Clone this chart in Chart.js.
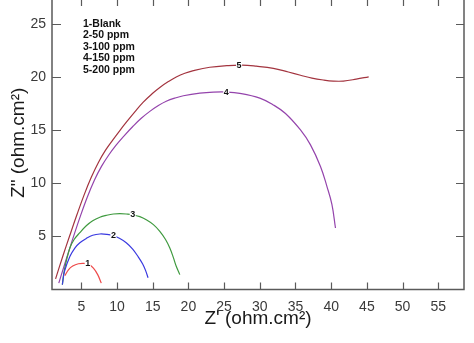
<!DOCTYPE html>
<html>
<head>
<meta charset="utf-8">
<script src="https://cdn.jsdelivr.net/npm/chart.js@4/dist/chart.umd.min.js"></script>
<style>
  html, body { margin: 0; padding: 0; background: #fff; overflow: hidden; }
  #grafico { display: block; margin-top: -5px; }
</style>
</head>
<body>
<canvas id="grafico" width="474" height="348"></canvas>
<script>
// curvas de nyquist: Z' (x) e Z'' (y) por concentracao
const blankX = [2.7, 3.2, 3.8, 4.6, 5.4, 6.1, 6.7, 7.3, 7.8];
const blankY = [1.3, 1.85, 2.2, 2.42, 2.46, 2.35, 2.0, 1.4, 0.6];

const ppm50X = [2.35, 2.65, 3.4, 4.1, 4.8, 5.7, 6.6, 7.6, 8.6, 9.5, 10.4, 11.3, 12.2, 13.0, 13.6, 14.0, 14.35];
const ppm50Y = [0.46, 1.7, 3.1, 3.9, 4.4, 4.8, 5.1, 5.22, 5.18, 5.05, 4.8, 4.4, 3.8, 3.05, 2.4, 1.8, 1.1];

const ppm100X = [2.35, 2.65, 3.4, 4.0, 4.8, 5.7, 6.6, 7.6, 8.5, 9.5, 10.4, 11.3, 12.2, 13.2, 14.1, 15.1, 16.0, 16.8, 17.4, 17.9, 18.3, 18.8];
const ppm100Y = [0.46, 1.9, 3.9, 4.7, 5.35, 6.0, 6.47, 6.8, 6.97, 7.1, 7.13, 7.1, 7.03, 6.85, 6.56, 6.1, 5.47, 4.7, 3.9, 3.0, 2.18, 1.4];

const ppm150X = [1.85, 2.85, 3.85, 4.85, 5.85, 6.85, 7.85, 8.85, 9.85, 11.0, 12.25, 13.4, 14.6, 15.8, 16.9, 18.1, 19.3, 21.6, 23.5, 25.3, 27.2, 30.0, 31.9, 33.6, 35.7, 37.1, 38.5, 39.4, 40.1, 40.6];
const ppm150Y = [0.6, 2.75, 4.85, 6.85, 8.7, 10.3, 11.6, 12.65, 13.55, 14.45, 15.35, 16.1, 16.75, 17.3, 17.7, 18.0, 18.22, 18.46, 18.56, 18.57, 18.45, 18.0, 17.36, 16.55, 15.0, 13.6, 11.57, 9.7, 8.0, 5.78];

const ppm200X = [1.4, 2.4, 3.4, 4.4, 5.4, 6.4, 7.4, 8.4, 9.4, 10.4, 11.4, 12.5, 13.65, 15.0, 16.0, 17.2, 18.3, 19.5, 20.7, 23.0, 25.4, 27.5, 29.5, 31.9, 34.0, 35.7, 37.3, 38.9, 40.3, 41.7, 43.5, 45.25];
const ppm200Y = [1.0, 3.1, 5.1, 7.05, 8.9, 10.55, 11.95, 13.1, 14.05, 14.95, 15.8, 16.7, 17.6, 18.45, 19.0, 19.55, 19.98, 20.33, 20.58, 20.9, 21.05, 21.1, 21.0, 20.8, 20.45, 20.15, 19.88, 19.7, 19.6, 19.6, 19.78, 20.0];

// numeros sobre cada curva
const rotuloTexto = ["1", "2", "3", "4", "5"];
const rotuloX = [5.9, 9.5, 12.2, 25.3, 27.1];
const rotuloY = [2.45, 5.06, 7.05, 18.57, 21.08];

// legenda em texto
const legendaLinhas = ["1-Blank", "2-50 ppm", "3-100 ppm", "4-150 ppm", "5-200 ppm"];

const xTicks = [5, 10, 15, 20, 25, 30, 35, 40, 45, 50, 55];
const yTicks = [5, 10, 15, 20, 25];

const FONTE = "'Liberation Sans', Arial, sans-serif";

function pontos(xs, ys) {
    return xs.map((x, i) => ({ x, y: ys[i] }));
}

const series = [
    { label: "1-Blank", data: pontos(blankX, blankY), cor: "#ee4a4a" },
    { label: "2-50 ppm", data: pontos(ppm50X, ppm50Y), cor: "#3a3ae0" },
    { label: "3-100 ppm", data: pontos(ppm100X, ppm100Y), cor: "#3f9a3f" },
    { label: "4-150 ppm", data: pontos(ppm150X, ppm150Y), cor: "#9444ac" },
    { label: "5-200 ppm", data: pontos(ppm200X, ppm200Y), cor: "#a3343f" },
];

// moldura com ticks para dentro nos quatro lados
const pluginMoldura = {
    id: "moldura",
    afterDraw(chart) {
        const { ctx, chartArea: a, scales } = chart;
        ctx.save();
        ctx.strokeStyle = "#5a5a5a";
        ctx.lineWidth = 1.5;
        ctx.strokeRect(a.left, a.top, a.right - a.left, a.bottom - a.top);
        ctx.lineWidth = 1.2;
        ctx.beginPath();
        xTicks.forEach(v => {
            const px = Math.round(scales.x.getPixelForValue(v)) + 0.5;
            ctx.moveTo(px, a.bottom); ctx.lineTo(px, a.bottom - 7);
            ctx.moveTo(px, a.top); ctx.lineTo(px, a.top + 10);
        });
        yTicks.forEach(v => {
            const py = Math.round(scales.y.getPixelForValue(v)) + 0.5;
            ctx.moveTo(a.left, py); ctx.lineTo(a.left + 9, py);
            ctx.moveTo(a.right, py); ctx.lineTo(a.right - 8, py);
        });
        ctx.stroke();
        ctx.restore();
    },
};

// numeros das curvas e bloco de legenda
const pluginRotulos = {
    id: "rotulos",
    afterDatasetsDraw(chart) {
        const { ctx, chartArea: a, scales } = chart;
        ctx.save();
        ctx.font = "bold 9px " + FONTE;
        ctx.textAlign = "center";
        ctx.textBaseline = "middle";
        rotuloTexto.forEach((t, i) => {
            const px = scales.x.getPixelForValue(rotuloX[i]);
            const py = scales.y.getPixelForValue(rotuloY[i]);
            ctx.fillStyle = "#fff";
            ctx.fillRect(px - 3, py - 4, 6, 8);
            ctx.fillStyle = "#111";
            ctx.fillText(t, px, py);
        });
        ctx.font = "bold 10.5px " + FONTE;
        ctx.textAlign = "left";
        ctx.fillStyle = "#111";
        legendaLinhas.forEach((t, i) => {
            ctx.fillText(t, a.left + 31, a.top + 28 + i * 11.5);
        });
        ctx.restore();
    },
};

new Chart(document.getElementById("grafico").getContext("2d"), {
    type: "scatter",
    data: {
        datasets: series.map(s => ({
            label: s.label,
            data: s.data,
            showLine: true,
            borderColor: s.cor,
            borderWidth: 1.2,
            pointRadius: 0,
            tension: 0.4,
        })),
    },
    options: {
        responsive: false,
        animation: false,
        layout: { padding: { top: 1, right: 10, left: 0, bottom: 0 } },
        plugins: { legend: { display: false }, tooltip: { enabled: false } },
        scales: {
            x: {
                type: "linear",
                min: 0.9,
                max: 58.6,
                afterBuildTicks: s => { s.ticks = xTicks.map(v => ({ value: v })); },
                afterFit: s => { s.height = 53.5; s.paddingLeft = 0; s.paddingRight = 0; },
                grid: { display: false, drawTicks: false },
                border: { display: false },
                ticks: { padding: 9, color: "#3a3a3a", font: { family: FONTE, size: 14 } },
                title: {
                    display: true,
                    text: "Z' (ohm.cm²)",
                    color: "#1a1a1a",
                    font: { family: FONTE, size: 19 },
                    padding: { top: 0, bottom: 13 },
                },
            },
            y: {
                type: "linear",
                min: 0,
                max: 27.6,
                afterBuildTicks: s => { s.ticks = yTicks.map(v => ({ value: v })); },
                afterFit: s => { s.width = 52; s.paddingTop = 0; s.paddingBottom = 0; },
                grid: { display: false, drawTicks: false },
                border: { display: false },
                ticks: { padding: 6, color: "#3a3a3a", font: { family: FONTE, size: 14 } },
                title: {
                    display: true,
                    text: "Z\" (ohm.cm²)",
                    color: "#1a1a1a",
                    font: { family: FONTE, size: 19 },
                    padding: { top: 7, bottom: 0 },
                },
            },
        },
    },
    plugins: [pluginMoldura, pluginRotulos],
});
</script>
</body>
</html>
